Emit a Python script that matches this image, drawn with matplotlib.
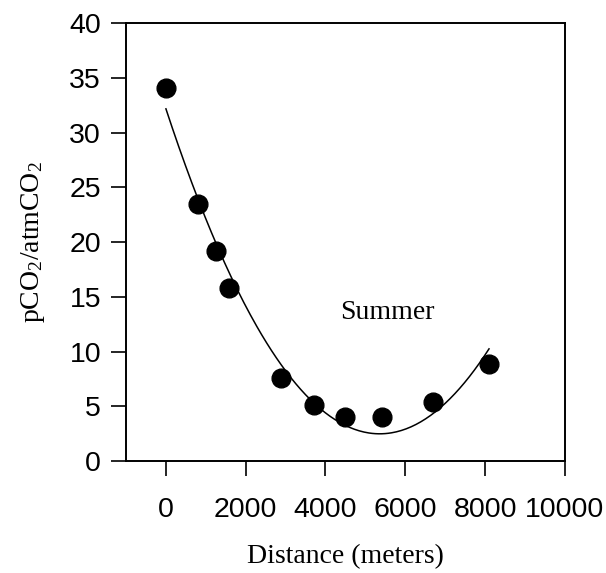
import numpy as np
import matplotlib
matplotlib.use("Agg")
import matplotlib.pyplot as plt

plt.rcParams["mathtext.fontset"] = "custom"
plt.rcParams["mathtext.rm"] = "Liberation Serif"
plt.rcParams["mathtext.it"] = "Liberation Serif:italic"

# data (distance in meters, pCO2/atmCO2)
distance = [0, 800, 1260, 1590, 2890, 3720, 4500, 5410, 6690, 8100]
ratio = [34.1, 23.5, 19.2, 15.8, 7.6, 5.1, 4.0, 4.0, 5.4, 8.9]

xticks = [0, 2000, 4000, 6000, 8000, 10000]
yticks = [0, 5, 10, 15, 20, 25, 30, 35, 40]

fig = plt.figure(figsize=(6.06, 5.73), dpi=100)
ax = fig.add_axes([0.208, 0.195, 0.724, 0.765])

# second order fit through the points
coef = np.polyfit(distance, ratio, 2)
xfit = np.linspace(min(distance), max(distance), 200)
ax.plot(xfit, np.polyval(coef, xfit), color="black", lw=1.1)
ax.plot(distance, ratio, "o", color="black", ms=13.5)

ax.text(5560, 13.6, "Summer", family="Liberation Serif", fontsize=20,
        ha="center", va="center")

ax.set_xlim(-1000, 10000)
ax.set_ylim(0, 40)
ax.set_xticks(xticks)
ax.set_yticks(yticks)
ax.set_xticklabels([str(t) for t in xticks], family="Liberation Sans", fontsize=20.5)
ax.set_yticklabels([str(t) for t in yticks], family="Liberation Sans", fontsize=20.5)
ax.tick_params(axis="x", direction="out", length=11, width=1.2, pad=15)
ax.tick_params(axis="y", direction="out", length=11, width=1.2, pad=7)
for s in ax.spines.values():
    s.set_linewidth(1.4)

ax.set_xlabel("Distance (meters)", family="Liberation Serif", fontsize=20, labelpad=15)
ax.set_ylabel(r"pCO$_2$/atmCO$_2$", family="Liberation Serif", fontsize=20, labelpad=16)

fig.savefig("out.png", dpi=100)
